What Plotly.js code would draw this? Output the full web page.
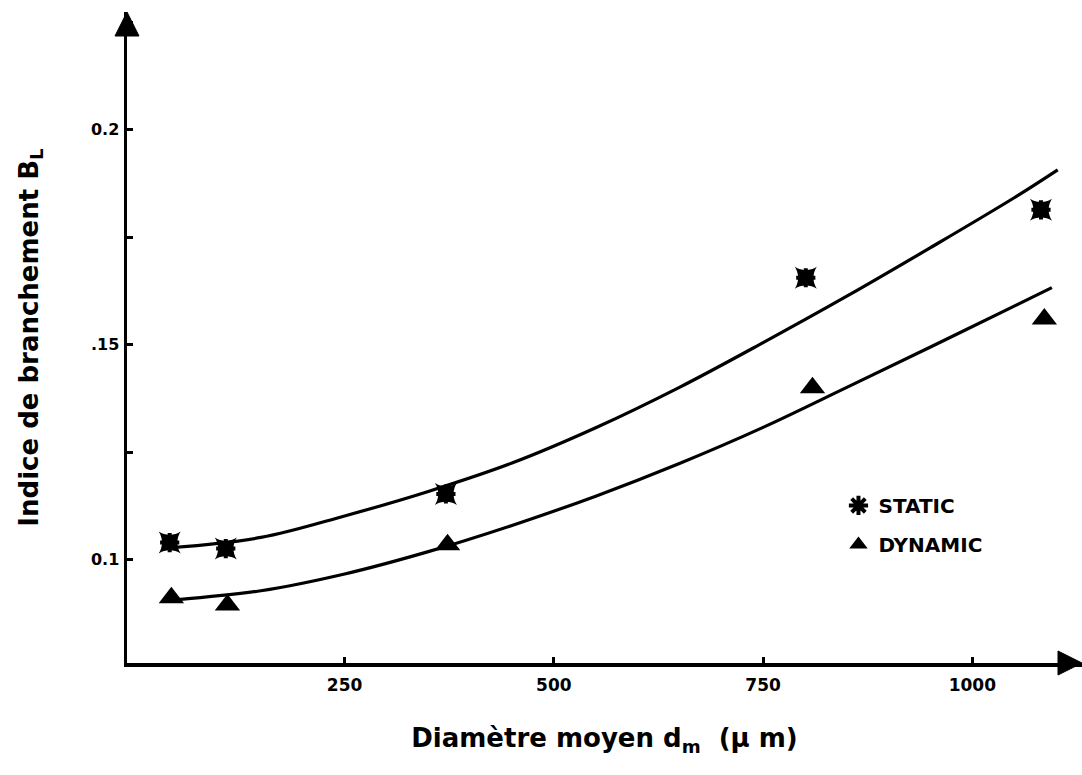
<!DOCTYPE html>
<html>
<head>
<meta charset="utf-8">
<script src="https://cdn.plot.ly/plotly-3.0.1.min.js"></script>
<style>html,body{margin:0;padding:0;background:#fff;}#chart{width:1082px;height:775px;}</style>
</head>
<body>
<div id="chart"></div>
<script>
// Measured points
const staticX = [41, 108, 371, 801, 1082];
const staticY = [0.1040, 0.1026, 0.1153, 0.1656, 0.1814];
const dynamicX = [43, 110, 373, 809, 1086];
const dynamicY = [0.0912, 0.0895, 0.1035, 0.1400, 0.1560];
// Fitted curves
const fitStaticX = [42, 150, 250, 350, 450, 550, 650, 750, 850, 950, 1050, 1102];
const fitStaticY = [0.1028, 0.1052, 0.1102, 0.1159, 0.1225, 0.1307, 0.1401, 0.1505, 0.1613, 0.1726, 0.1842, 0.1907];
const fitDynX = [48, 150, 250, 350, 450, 550, 650, 750, 850, 950, 1050, 1095];
const fitDynY = [0.0907, 0.0928, 0.0967, 0.1019, 0.1080, 0.1148, 0.1224, 0.1308, 0.1401, 0.1495, 0.1590, 0.1633];
// Axes
const xRange = [-10, 1131];
const yRange = [0.0760, 0.2274];
const xTickVals = [250, 500, 750, 1000];
const xTickText = ['250', '500', '750', '1000'];
const yTickVals = [0.1, 0.15, 0.2];
const yTickText = ['0.1', '.15', '0.2'];

const black = '#000';
const tickFont = 'DejaVu Sans, Liberation Sans, sans-serif';
const titleFont = 'DejaVu Sans, Open Sans, sans-serif';
const traces = [
  {x: fitStaticX, y: fitStaticY, mode: 'lines', line: {color: black, width: 3.2, shape: 'spline', smoothing: 1}, showlegend: false, hoverinfo: 'skip'},
  {x: fitDynX, y: fitDynY, mode: 'lines', line: {color: black, width: 3.2, shape: 'spline', smoothing: 1}, showlegend: false, hoverinfo: 'skip'},
  {x: staticX, y: staticY, mode: 'markers', name: 'STATIC', legendgroup: 'a',
   marker: {symbol: 'star-square', size: 20, color: black}, showlegend: false},
  {x: staticX, y: staticY, mode: 'markers', name: 'STATIC', legendgroup: 'a',
   marker: {symbol: 'asterisk-open', size: 16, color: black, line: {color: black, width: 4}}},
  {x: dynamicX, y: dynamicY, mode: 'markers', name: 'DYNAMIC', legendgroup: 'b',
   marker: {symbol: 'triangle-up', size: 22, color: black}}
];

const layout = {
  width: 1082, height: 775,
  margin: {l: 127, r: 0, t: 12, b: 112},
  paper_bgcolor: '#fff', plot_bgcolor: '#fff',
  showlegend: true,
  legend: {x: 0.745, y: 0.272, xanchor: 'left', yanchor: 'top', bgcolor: 'rgba(0,0,0,0)',
    font: {family: tickFont, size: 20, color: black, weight: 'bold'},
    traceorder: 'grouped', tracegroupgap: 10, itemsizing: 'trace', itemwidth: 30},
  xaxis: {range: xRange, showgrid: false, zeroline: false, showline: true, linecolor: black, linewidth: 3.5,
    tickmode: 'array', tickvals: xTickVals, ticktext: xTickText, ticks: 'inside', ticklen: 6, tickwidth: 3, tickcolor: black,
    tickfont: {family: tickFont, size: 17, color: black, weight: 'bold'},
    ticklabelstandoff: 4,
    title: {text: 'Diamètre moyen d<sub>m</sub>  (µ m)', standoff: 36,
      font: {family: titleFont, size: 26, color: black, weight: 'bold'}}},
  yaxis: {range: yRange, showgrid: false, zeroline: false, showline: true, linecolor: black, linewidth: 3.5,
    tickmode: 'array', tickvals: yTickVals, ticktext: yTickText, ticks: 'inside', ticklen: 6, tickwidth: 3, tickcolor: black,
    minor: {tick0: 0.1, dtick: 0.025, ticks: 'inside', ticklen: 6, tickwidth: 3, tickcolor: black, showgrid: false},
    tickfont: {family: tickFont, size: 16, color: black, weight: 'bold'},
    ticklabelstandoff: 1,
    title: {text: 'Indice de branchement B<sub>L</sub>', standoff: 46,
      font: {family: titleFont, size: 26, color: black, weight: 'bold'}}},
  shapes: [
    {type: 'path', xref: 'paper', yref: 'paper', xsizemode: 'pixel', ysizemode: 'pixel',
     xanchor: 1, yanchor: 0, path: 'M -24 -12 L 0 0 L -24 12 Z',
     fillcolor: black, line: {color: black, width: 1}},
    {type: 'path', xref: 'paper', yref: 'paper', xsizemode: 'pixel', ysizemode: 'pixel',
     xanchor: 0, yanchor: 1, path: 'M -12 -24 L 0 0 L 12 -24 Z',
     fillcolor: black, line: {color: black, width: 1}}
  ]
};

Plotly.newPlot('chart', traces, layout, {displayModeBar: false, staticPlot: true});
</script>
</body>
</html>
